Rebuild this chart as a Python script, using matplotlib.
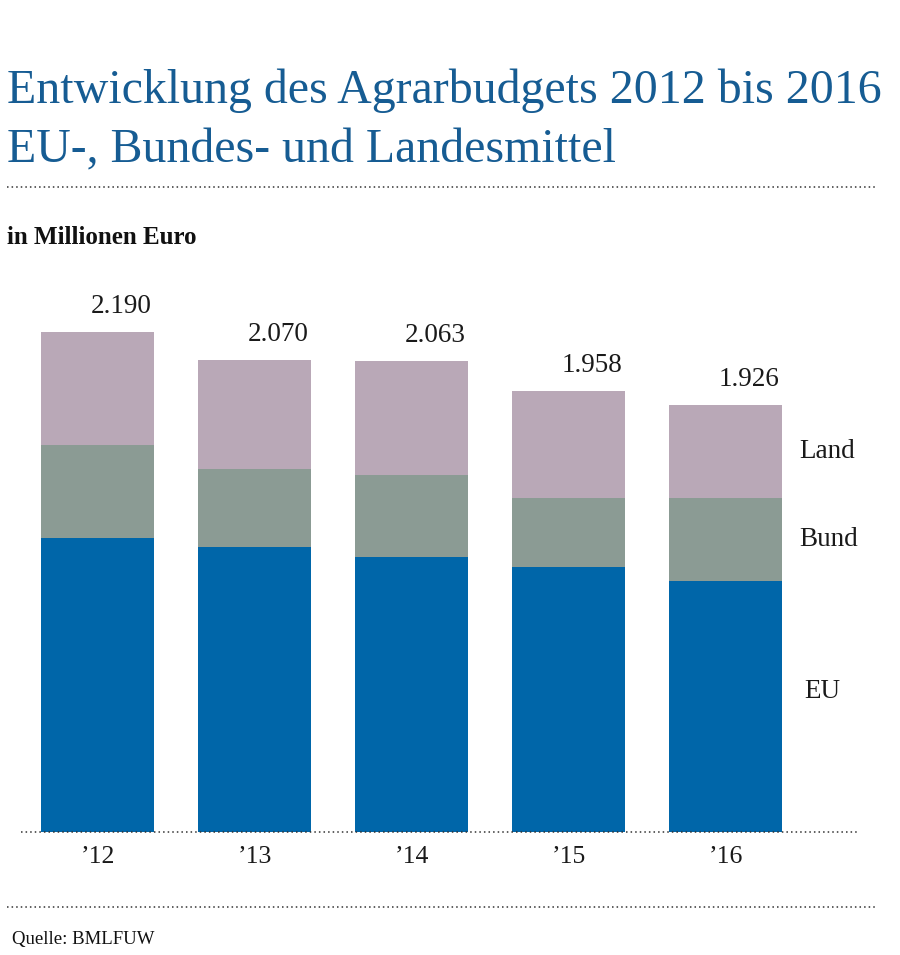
import matplotlib
matplotlib.use("Agg")
import matplotlib.pyplot as plt
from matplotlib.lines import Line2D

years = ["’12", "’13", "’14", "’15", "’16"]
eu = [1285, 1249, 1204, 1161, 1099]
bund = [409, 341, 359, 302, 365]
land = [496, 478, 499, 467, 407]
totals = ["2.190", "2.070", "2.063", "1.958", "1.926"]
series_names = ["EU", "Bund", "Land"]

C_EU = "#0066a9"
C_BUND = "#8b9b94"
C_LAND = "#b9a8b7"
C_TITLE = "#165c93"

plt.rcParams['font.family'] = ['Liberation Serif', 'DejaVu Serif']

W, H = 900, 955
fig = plt.figure(figsize=(W / 100, H / 100), dpi=100)

def fx(px):
    return px / W

def fy(py):
    return 1 - py / H

base_px = 832
top_px = 280
ax = fig.add_axes([0, fy(base_px), 1, (base_px - top_px) / H])
scale = 2190 / 500.3
ax.set_ylim(0, (base_px - top_px) * scale)
spacing = 157.0
x0 = 97.8
ax.set_xlim(-x0 / spacing, (W - x0) / spacing)
ax.axis("off")

xs = list(range(len(years)))
bw = 113 / spacing
ax.bar(xs, eu, width=bw, color=C_EU, zorder=3)
bottom2 = [e for e in eu]
ax.bar(xs, bund, width=bw, bottom=bottom2, color=C_BUND, zorder=3)
bottom3 = [e + b for e, b in zip(eu, bund)]
ax.bar(xs, land, width=bw, bottom=bottom3, color=C_LAND, zorder=3)

# value labels
for x, e, b, l, t in zip(xs, eu, bund, land, totals):
    top = e + b + l
    ax.annotate(t, xy=(x + bw / 2, top), xytext=(-3, 13), textcoords="offset pixels",
                ha="right", va="bottom", fontsize=19.5, color="#1a1a1a")

# series labels next to last bar
last = xs[-1]
ax.text(last + bw / 2 + 17 / spacing, eu[-1] + bund[-1] + land[-1] / 2, "Land",
        ha="left", va="center", fontsize=19.5, color="#1a1a1a")
ax.text(last + bw / 2 + 17 / spacing, eu[-1] + bund[-1] / 2, "Bund",
        ha="left", va="center", fontsize=19.5, color="#1a1a1a")
ax.text(last + bw / 2 + 22 / spacing, eu[-1] * 0.56, "EU",
        ha="left", va="center", fontsize=19.5, color="#1a1a1a")

# x labels
for x, y in zip(xs, years):
    ax.annotate(y, xy=(x, 0), xytext=(0, -14), textcoords="offset pixels",
                ha="center", va="top", fontsize=18.5, color="#1a1a1a",
                annotation_clip=False)

# dotted lines
dot = (0, (1, 2))
fig.add_artist(Line2D([fx(21), fx(859)], [fy(832), fy(832)], color="#333333",
                      lw=1.1, ls=dot, zorder=1))
fig.add_artist(Line2D([fx(7), fx(876)], [fy(187), fy(187)], color="#333333",
                      lw=1.1, ls=dot))
fig.add_artist(Line2D([fx(7), fx(876)], [fy(907), fy(907)], color="#333333",
                      lw=1.1, ls=dot))

# titles
fig.text(fx(7), fy(103), "Entwicklung des Agrarbudgets 2012 bis 2016", ha="left",
         va="baseline", fontsize=34.5, color=C_TITLE)
fig.text(fx(7), fy(162), "EU-, Bundes- und Landesmittel", ha="left",
         va="baseline", fontsize=34.5, color=C_TITLE)
fig.text(fx(7), fy(244), "in Millionen Euro", ha="left", va="baseline",
         fontsize=18, fontweight="bold", color="#111111")
fig.text(fx(12), fy(944), "Quelle: BMLFUW", ha="left", va="baseline",
         fontsize=13.5, color="#111111")

fig.savefig("out.png", dpi=100)
